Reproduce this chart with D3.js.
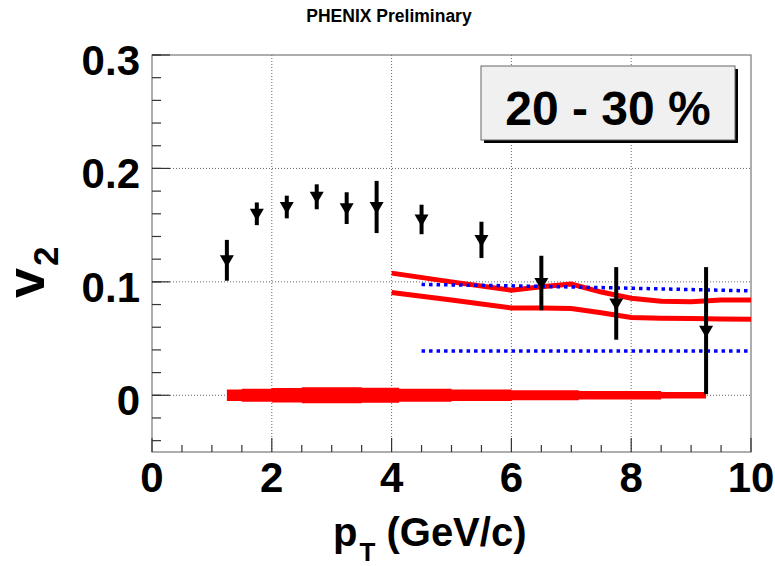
<!DOCTYPE html>
<html>
<head>
<meta charset="utf-8">
<script src="https://cdn.jsdelivr.net/npm/d3@7"></script>
<style>
  body { margin: 0; background: #fff; }
  svg { display: block; font-family: "Liberation Sans", Arial, sans-serif; font-weight: bold; }
</style>
</head>
<body>
<script>
// measured v2 points (20-30% centrality)
const ptBins = [1.25, 1.75, 2.25, 2.75, 3.25, 3.75, 4.5, 5.5, 6.5, 7.75, 9.25];
const v2Values = [0.119, 0.160, 0.166, 0.175, 0.165, 0.166, 0.155, 0.137, 0.099, 0.081, 0.057];
const v2Errors = [0.018, 0.010, 0.010, 0.011, 0.014, 0.023, 0.013, 0.016, 0.024, 0.032, 0.056];
const v2Sys = [0.0051, 0.0057, 0.0064, 0.0071, 0.0071, 0.0066, 0.0057, 0.0051, 0.0044, 0.0037, 0.0028];

// model curves
const modelPt = [4, 5, 6, 6.5, 7, 7.5, 8, 8.5, 9, 9.5, 10];
const modelUpper = [0.1077, 0.100, 0.0927, 0.0956, 0.098, 0.091, 0.0855, 0.083, 0.0825, 0.084, 0.084];
const modelLower = [0.0906, 0.084, 0.077, 0.077, 0.0765, 0.0727, 0.0686, 0.068, 0.0677, 0.0673, 0.067];
const bluePt = [4.5, 6, 8, 10];
const blueUpper = [0.0977, 0.0965, 0.0944, 0.092];
const blueLowerPt = [4.5, 10];
const blueLower = [0.039, 0.039];

const xTicks = [0, 2, 4, 6, 8, 10];
const yTicks = [0, 0.1, 0.2, 0.3];
const centralityLabel = '20 - 30 %';

const width = 775;
const height = 566;
const frame = {left: 152, right: 751, top: 55, bottom: 452};

const svg = d3.select('body')
  .append('svg')
  .attr('width', width)
  .attr('height', height);

const x = d3.scaleLinear().domain([0, 10]).range([frame.left, frame.right]);
const y = d3.scaleLinear().domain([-0.05, 0.3]).range([frame.bottom, frame.top]);

// dotted grid at the major ticks
svg.append('g')
  .selectAll('line')
  .data(xTicks.filter(d => d > 0 && d < 10))
  .join('line')
  .attr('x1', d => x(d)).attr('x2', d => x(d))
  .attr('y1', frame.top).attr('y2', frame.bottom)
  .attr('stroke', '#666').attr('stroke-dasharray', '1,2');

svg.append('g')
  .selectAll('line')
  .data(yTicks.filter(d => d < 0.3))
  .join('line')
  .attr('x1', frame.left).attr('x2', frame.right)
  .attr('y1', d => y(d)).attr('y2', d => y(d))
  .attr('stroke', '#666').attr('stroke-dasharray', '1,2');

// frame
svg.append('rect')
  .attr('x', frame.left).attr('y', frame.top)
  .attr('width', frame.right - frame.left)
  .attr('height', frame.bottom - frame.top)
  .attr('fill', 'none').attr('stroke', '#777').attr('stroke-width', 1.2);

// axes ticks (ROOT style, inside the frame)
const xMinor = d3.range(0, 10.01, 0.5);
svg.append('g')
  .selectAll('line')
  .data(xMinor)
  .join('line')
  .attr('x1', d => x(d)).attr('x2', d => x(d))
  .attr('y1', frame.bottom)
  .attr('y2', d => frame.bottom - (xTicks.includes(d) ? 14 : 7))
  .attr('stroke', '#333').attr('stroke-width', 1.2);

const yMinor = d3.range(-0.04, 0.3001, 0.02).map(d => +d.toFixed(2));
svg.append('g')
  .selectAll('line')
  .data(yMinor.concat(yTicks))
  .join('line')
  .attr('x1', frame.left)
  .attr('x2', (d, i) => frame.left + (i >= yMinor.length ? 18 : 9))
  .attr('y1', d => y(d)).attr('y2', d => y(d))
  .attr('stroke', '#333').attr('stroke-width', 1.2);

// tick labels
svg.append('g')
  .selectAll('text')
  .data(xTicks)
  .join('text')
  .attr('x', d => x(d))
  .attr('y', 492)
  .attr('text-anchor', 'middle')
  .attr('font-size', 42)
  .text(d => d);

svg.append('g')
  .selectAll('text')
  .data(yTicks)
  .join('text')
  .attr('x', 140)
  .attr('y', d => y(d) + 20)
  .attr('text-anchor', 'end')
  .attr('font-size', 42)
  .text(d => d === 0 ? '0' : d.toFixed(1));

// axis titles
const xt = svg.append('text')
  .attr('x', 333).attr('y', 546)
  .attr('font-size', 40);
xt.append('tspan').text('p');
xt.append('tspan').attr('font-size', 26).attr('dy', 15).attr('dx', 2).text('T');
xt.append('tspan').attr('dy', -15).text(' (GeV/c)');

const yt = svg.append('text')
  .attr('transform', 'translate(44,298) rotate(-90)')
  .attr('font-size', 54);
yt.append('tspan').text('v');
yt.append('tspan').attr('font-size', 35).attr('dy', 14).attr('dx', 2).text('2');

// title
svg.append('text')
  .attr('x', 389).attr('y', 22)
  .attr('text-anchor', 'middle')
  .attr('font-size', 17.5)
  .text('PHENIX Preliminary');

// systematic band around zero
const band = d3.area()
  .x((d, i) => x(ptBins[i]))
  .y0((d, i) => y(-v2Sys[i]))
  .y1((d, i) => y(v2Sys[i]))
  .curve(d3.curveStep);

svg.append('path')
  .datum(v2Sys)
  .attr('d', band)
  .attr('fill', '#ff0000');

// model curves
const curve = xs => d3.line().x((d, i) => x(xs[i])).y(d => y(d));

[modelUpper, modelLower].forEach(vals => {
  svg.append('path')
    .datum(vals)
    .attr('d', curve(modelPt))
    .attr('fill', 'none')
    .attr('stroke', '#ff0000')
    .attr('stroke-width', 5);
});

svg.append('path')
  .datum(blueUpper)
  .attr('d', curve(bluePt))
  .attr('fill', 'none')
  .attr('stroke', '#0000ff')
  .attr('stroke-width', 3.5)
  .attr('stroke-dasharray', '3.5,4');

svg.append('path')
  .datum(blueLower)
  .attr('d', curve(blueLowerPt))
  .attr('fill', 'none')
  .attr('stroke', '#0000ff')
  .attr('stroke-width', 3.5)
  .attr('stroke-dasharray', '3.5,4');

// data points with stat errors
const pts = svg.append('g')
  .selectAll('g')
  .data(v2Values)
  .join('g');

pts.append('line')
  .attr('x1', (d, i) => x(ptBins[i])).attr('x2', (d, i) => x(ptBins[i]))
  .attr('y1', (d, i) => y(d + v2Errors[i]))
  .attr('y2', (d, i) => y(d - v2Errors[i]))
  .attr('stroke', '#000').attr('stroke-width', 4);

pts.append('path')
  .attr('transform', (d, i) => `translate(${x(ptBins[i])},${y(d)})`)
  .attr('d', 'M-7,-5L7,-5L0,7Z')
  .attr('fill', '#000');

// centrality label box
const box = {x: 481, y: 66, w: 254, h: 74};
svg.append('rect')
  .attr('x', box.x + 3).attr('y', box.y + 3)
  .attr('width', box.w).attr('height', box.h)
  .attr('fill', '#000');
svg.append('rect')
  .attr('x', box.x).attr('y', box.y)
  .attr('width', box.w).attr('height', box.h)
  .attr('fill', '#f0f0f0').attr('stroke', '#666').attr('stroke-width', 1);
svg.append('text')
  .attr('x', box.x + box.w / 2).attr('y', 125)
  .attr('text-anchor', 'middle')
  .attr('font-size', 48)
  .text(centralityLabel);
</script>
</body>
</html>
